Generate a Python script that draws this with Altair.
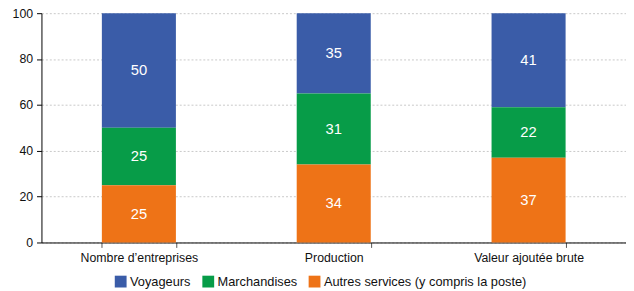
import altair as alt
import pandas as pd

categories = ["Nombre d’entreprises", "Production", "Valeur ajoutée brute"]
series = ["Voyageurs", "Marchandises", "Autres services (y compris la poste)"]
voyageurs = [50, 35, 41]
marchandises = [25, 31, 22]
autres = [25, 34, 37]
colors = ["#3a5ca8", "#079c48", "#ee7317"]

rows = []
for i, c in enumerate(categories):
    for k, (s, vals) in enumerate(zip(series, [voyageurs, marchandises, autres])):
        rows.append({"cat": c, "serie": s, "value": vals[i], "ord": 2 - k})
df = pd.DataFrame(rows)

FONT = "Liberation Sans"

base = alt.Chart(df).transform_stack(
    stack="value", groupby=["cat"], sort=[alt.SortField("ord", "ascending")], as_=["v0", "v1"]
).transform_calculate(mid="(datum.v0 + datum.v1) / 2")

x = alt.X("cat:N", sort=categories, title=None,
          scale=alt.Scale(paddingInner=0.62, paddingOuter=0.31),
          axis=alt.Axis(labelAngle=0, tickBand="extent", domainColor="#000", tickColor="#555",
                        tickSize=5, labelFontSize=12.5, labelColor="#111", labelPadding=4, grid=False))

bars = base.mark_bar().encode(
    x=x,
    y=alt.Y("v0:Q", title=None, scale=alt.Scale(domain=[0, 100], nice=False),
            axis=alt.Axis(values=[0, 20, 40, 60, 80, 100], grid=True, gridDash=[2, 2], gridColor="#c8c8c8",
                          domainColor="#000", tickColor="#000", tickSize=5, labelFontSize=12.5,
                          labelColor="#111", labelPadding=4)),
    y2="v1:Q",
    color=alt.Color("serie:N", sort=series, scale=alt.Scale(domain=series, range=colors),
                    legend=alt.Legend(title=None, orient="none", legendX=74, legendY=266,
                                      direction="horizontal", padding=0,
                                      symbolType="square", symbolSize=144, symbolStrokeWidth=0,
                                      labelFontSize=13, labelColor="#111", columnPadding=11,
                                      labelOffset=3, labelLimit=0, symbolOffset=0)),
)

labels = base.mark_text(color="white", fontSize=15, font=FONT, baseline="middle").encode(
    x=alt.X("cat:N", sort=categories),
    y=alt.Y("mid:Q"),
    text=alt.Text("value:Q"),
)

chart = (bars + labels).properties(
    width=594, height=233,
    autosize=alt.AutoSizeParams(type="none"),
    padding={"left": 34, "top": 3, "right": 0, "bottom": 45},
).configure(font=FONT).configure_view(stroke=None).configure_axis(labelFont=FONT).configure_legend(labelFont=FONT)

chart.save("out.html", embed_options={"renderer": "svg", "actions": False})
